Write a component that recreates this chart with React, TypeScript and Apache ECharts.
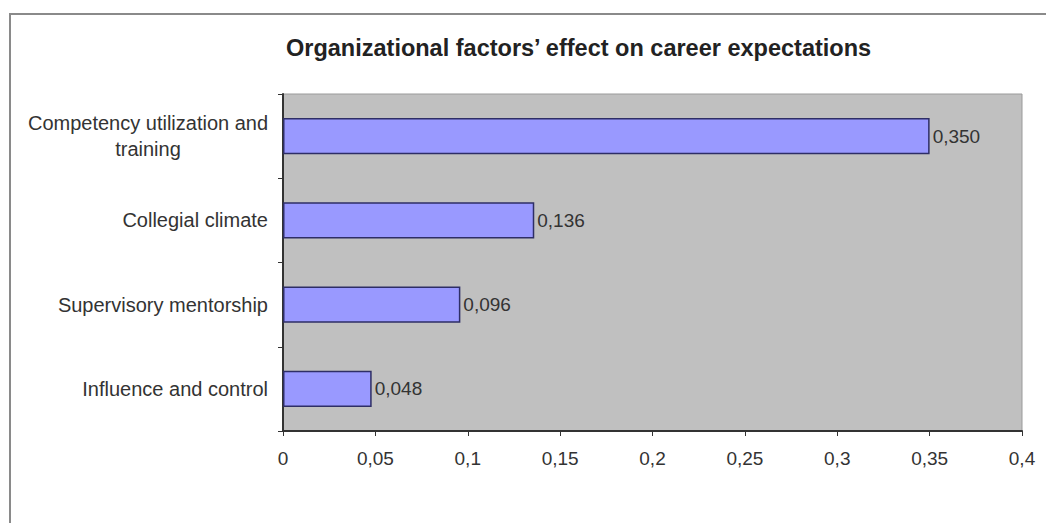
import React, { useEffect, useRef } from "react";
import * as echarts from "echarts";

// Factors and their effect sizes, listed top to bottom
const categories: string[] = [
  "Competency utilization and\ntraining",
  "Collegial climate",
  "Supervisory mentorship",
  "Influence and control",
];
const effects: number[] = [0.35, 0.136, 0.096, 0.048];
const xTicks: number[] = [0, 0.05, 0.1, 0.15, 0.2, 0.25, 0.3, 0.35, 0.4];

const titleText = "Organizational factors\u2019 effect on career expectations";
const FONT = '"Liberation Sans", Arial, sans-serif';

const comma = (v: number | string) => String(v).replace(".", ",");

export default function App() {
  const ref = useRef<HTMLDivElement>(null);

  useEffect(() => {
    if (!ref.current) return;
    const chart = echarts.init(ref.current, null, { renderer: "svg" });

    chart.setOption({
      animation: false,
      backgroundColor: "#ffffff",
      textStyle: { fontFamily: FONT },
      title: {
        text: titleText,
        left: 286,
        top: 36,
        padding: 0,
        textStyle: {
          fontFamily: FONT,
          fontSize: 23.5,
          fontWeight: "bold",
          color: "#222222",
        },
      },
      graphic: [
        {
          type: "rect",
          silent: true,
          shape: { x: 10, y: 14, width: 1100, height: 600 },
          style: { fill: "none", stroke: "#8a8a8a", lineWidth: 2 },
        },
      ],
      grid: {
        left: 283,
        right: 24,
        top: 94,
        bottom: 92,
        show: true,
        backgroundColor: "#c0c0c0",
        borderColor: "#9a9a9a",
        borderWidth: 1,
      },
      xAxis: {
        type: "value",
        min: 0,
        max: xTicks[xTicks.length - 1],
        interval: xTicks[1] - xTicks[0],
        splitLine: { show: false },
        axisLine: { show: true, lineStyle: { color: "#333333", width: 2 } },
        axisTick: { show: true, length: 5, lineStyle: { color: "#333333", width: 1 } },
        axisLabel: {
          margin: 18,
          fontFamily: FONT,
          fontSize: 19,
          color: "#333333",
          formatter: (v: number) => comma(Number(v.toFixed(2))),
        },
      },
      yAxis: {
        type: "category",
        inverse: true,
        data: categories,
        axisLine: { show: true, lineStyle: { color: "#333333", width: 2 } },
        axisTick: { show: true, length: 5, alignWithLabel: false, lineStyle: { color: "#333333", width: 1 } },
        axisLabel: {
          margin: 15,
          fontFamily: FONT,
          fontSize: 20,
          color: "#333333",
          // wrapped labels get a fixed-width box so each line is centred
          formatter: (v: string) =>
            v.includes("\n")
              ? v
                  .split("\n")
                  .map((line) => `{w|${line}}`)
                  .join("\n")
              : v,
          rich: {
            w: {
              width: 240,
              align: "center",
              fontFamily: FONT,
              fontSize: 20,
              lineHeight: 26,
              color: "#333333",
            },
          },
        },
      },
      series: [
        {
          type: "bar",
          data: effects,
          barWidth: "43%",
          itemStyle: {
            color: "#9999ff",
            borderColor: "#2e2e66",
            borderWidth: 1.5,
          },
          label: {
            show: true,
            position: "right",
            distance: 3,
            fontFamily: FONT,
            fontSize: 19,
            color: "#333333",
            formatter: (p: any) => comma((p.value as number).toFixed(3)),
          },
        },
      ],
    });

    return () => chart.dispose();
  }, []);

  return (
    <div
      ref={ref}
      style={{ position: "fixed", left: 0, top: 0, width: 1046, height: 523 }}
    />
  );
}
